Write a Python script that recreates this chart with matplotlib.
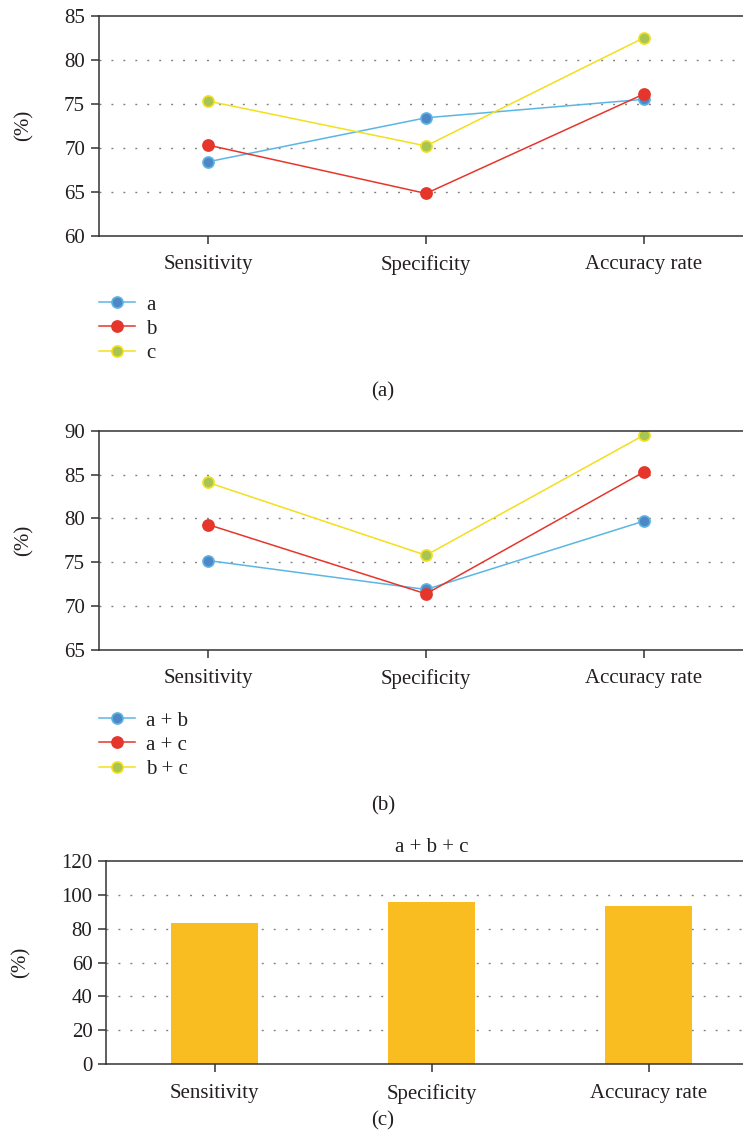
import matplotlib
matplotlib.use("Agg")
import matplotlib.pyplot as plt
import numpy as np

plt.rcParams['font.family'] = ['Liberation Serif', 'DejaVu Serif']

categories = ['Sensitivity', 'Specificity', 'Accuracy rate']

# single indicators
single_names = ['a', 'b', 'c']
single_a = [68.4, 73.4, 75.5]
single_b = [70.3, 64.8, 76.1]
single_c = [75.3, 70.2, 82.5]

# pairs of indicators
pair_names = ['a + b', 'a + c', 'b + c']
pair_ab = [75.2, 71.9, 79.7]
pair_ac = [79.3, 71.4, 85.3]
pair_bc = [84.1, 75.8, 89.5]

# all three together
combo_name = 'a + b + c'
combo_abc = [83.3, 95.6, 93.3]

line_col = ['#5bb6e3', '#e6362b', '#f2df1e']
face_col = ['#4f86c6', '#e6362b', '#a7c552']
bar_col = '#f9bd22'
ink = '#231f20'
FS = 15

W, H = 743, 1143
fig = plt.figure(figsize=(W / 100, H / 100), dpi=100)


def box(left, top, bottom, width):
    return [left / W, 1 - bottom / H, width / W, (bottom - top) / H]


def style(ax, ylim, yticks):
    ax.set_ylim(*ylim)
    ax.set_yticks(yticks)
    ax.set_xlim(-0.5, 2.5)
    ax.set_xticks(range(len(categories)))
    ax.set_xticklabels(categories)
    for s in ['left', 'bottom', 'top']:
        ax.spines[s].set_color('#333333')
        ax.spines[s].set_linewidth(1.1)
    ax.spines['right'].set_visible(False)
    ax.tick_params(direction='out', length=6, width=1.1, color='#333333',
                   labelsize=FS, labelcolor=ink, pad=4)
    ax.tick_params(axis='x', pad=8)
    for y in yticks[1:-1]:
        ax.axhline(y, color='#808080', lw=1.0, dashes=(1.4, 7.2), zorder=0)
    ax.set_ylabel('(%)', fontsize=FS, color=ink)


def lines(ax, series, names):
    x = np.arange(len(categories))
    for i, (vals, name) in enumerate(zip(series, names)):
        ax.plot(x, vals, color=line_col[i], lw=1.1, marker='o', ms=8,
                mfc=face_col[i], mec=line_col[i], mew=1.2, label=name)


def key(ax, top):
    ax.legend(loc='upper left', bbox_to_anchor=(99 / W, 1 - top / H),
              bbox_transform=fig.transFigure, frameon=False, fontsize=FS,
              handlelength=1.75, handletextpad=0.5, labelspacing=0.22,
              borderpad=0, borderaxespad=0, labelcolor=ink)


# (a)
ax1 = fig.add_axes(box(99, 15.7, 235.7, 654))
style(ax1, (60, 85), [60, 65, 70, 75, 80, 85])
lines(ax1, [single_a, single_b, single_c], single_names)
ax1.yaxis.set_label_coords(-0.1, 0.5)
key(ax1, 295)
fig.text(383 / W, 1 - 392 / H, '(a)', ha='center', va='center',
         fontsize=FS, color=ink)

# (b)
ax2 = fig.add_axes(box(99, 430.7, 650, 654))
style(ax2, (65, 90), [65, 70, 75, 80, 85, 90])
lines(ax2, [pair_ab, pair_ac, pair_bc], pair_names)
ax2.yaxis.set_label_coords(-0.1, 0.5)
key(ax2, 711)
fig.text(383 / W, 1 - 806 / H, '(b)', ha='center', va='center',
         fontsize=FS, color=ink)

# (c)
ax3 = fig.add_axes(box(106.3, 860.7, 1064.3, 651))
style(ax3, (0, 120), [0, 20, 40, 60, 80, 100, 120])
ax3.bar(np.arange(len(categories)), combo_abc, width=0.4, color=bar_col,
        zorder=2)
ax3.yaxis.set_label_coords(-0.117, 0.5)
ax3.set_title(combo_name, fontsize=FS, color=ink, pad=6)
fig.text(383 / W, 1 - 1121 / H, '(c)', ha='center', va='center',
         fontsize=FS, color=ink)

fig.savefig('out.png', dpi=100)
